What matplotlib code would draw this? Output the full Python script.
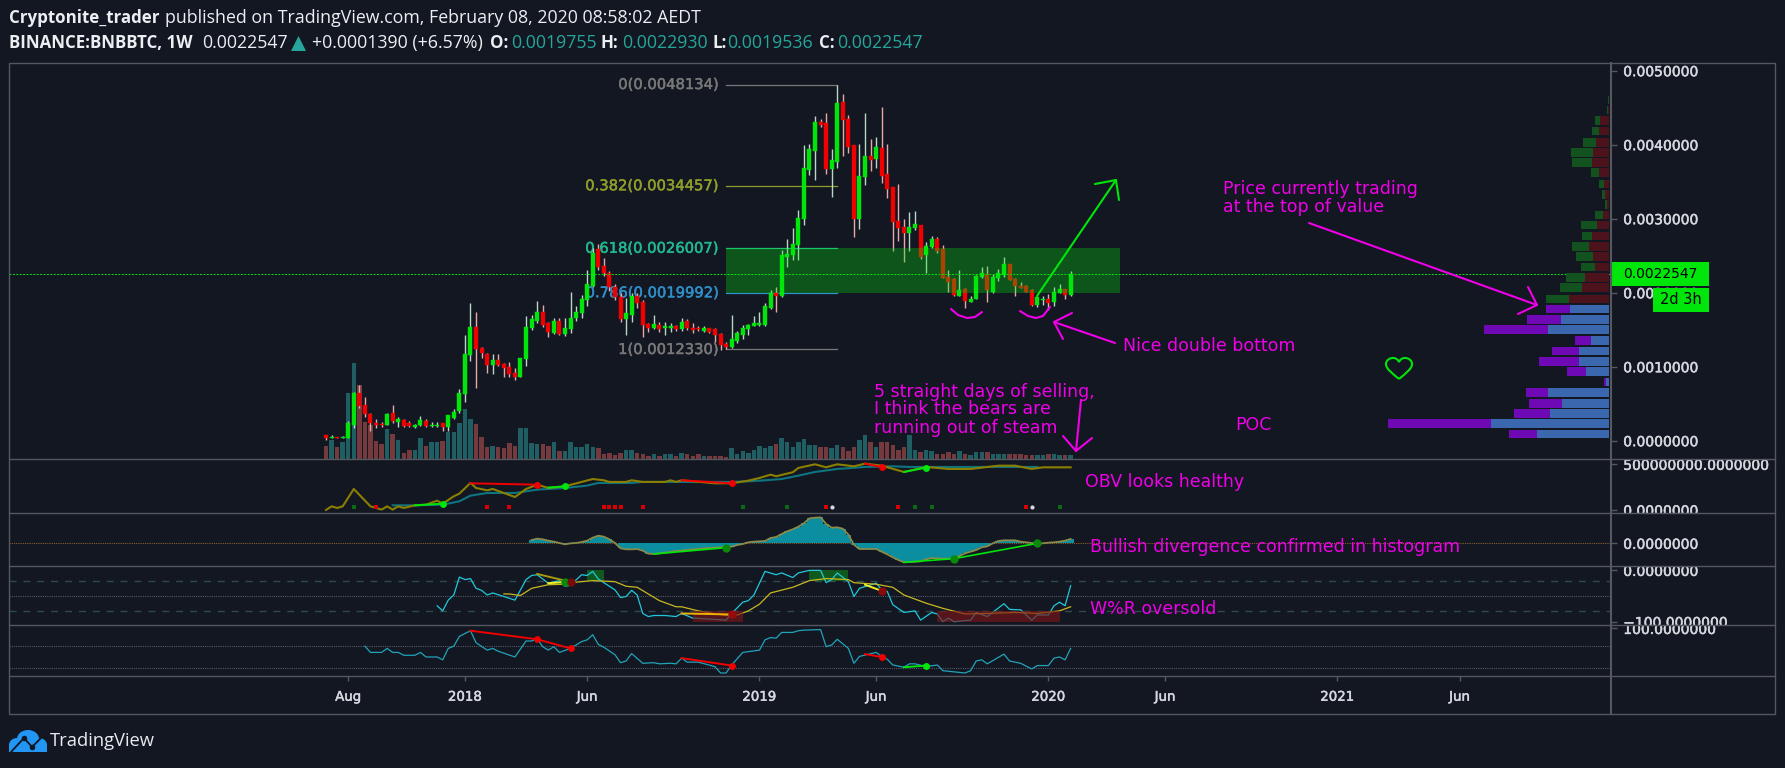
#!/usr/bin/env python
# BNBBTC weekly TradingView snapshot, redrawn in matplotlib.

import matplotlib
matplotlib.use("Agg")
import matplotlib.pyplot as plt
import matplotlib.patheffects as pe
from matplotlib.patches import Rectangle, Polygon, Ellipse, PathPatch
from matplotlib.path import Path
from matplotlib.transforms import Bbox

W, H = 1785, 768
bg = "#131722"
frame = "#55585f"
txt = "#d6d8de"
up_col = "#00e60a"
down_col = "#f00000"
magenta = "#f000e8"

# prices in 1e-5 BTC, one row per week
opens = [7.2, 4.1, 5.0, 4.1, 4.1, 21.2, 64.0, 48.2, 36.0, 23.4, 23.0, 21.2, 36.9, 25.2, 28.4, 23.4, 18.9, 21.2, 27.0, 19.8,
         20.3, 23.4, 18.0, 30.6, 39.6, 62.6, 115.8, 154.1, 125.2, 117.1, 101.8, 109.0, 103.6, 99.1, 91.4, 86.0, 109.9, 152.7, 162.2, 173.9,
         158.6, 145.9, 162.2, 144.1, 150.9, 166.2, 172.1, 190.1, 209.5, 258.6, 236.5, 226.1, 208.1, 193.7, 164.0, 169.8, 195.5, 187.8, 157.7, 152.3,
         156.3, 152.7, 152.7, 155.0, 150.5, 161.7, 152.7, 152.7, 148.6, 151.8, 150.5, 144.1, 130.6, 127.0, 134.7, 142.8, 150.5, 155.4, 156.3, 156.3,
         179.7, 199.1, 195.5, 248.2, 250.5, 264.0, 299.5, 365.8, 391.9, 430.6, 428.8, 366.7, 376.1, 458.1, 434.2, 399.1, 299.5, 356.8, 385.1, 380.2,
         395.0, 359.9, 342.3, 297.3, 289.2, 280.2, 287.4, 291.0, 250.9, 261.3, 272.1, 258.6, 220.7, 218.0, 195.9, 205.0, 187.8, 191.9, 220.7, 225.2,
         201.4, 219.4, 223.9, 238.7, 218.9, 209.0, 209.0, 203.6, 183.3, 190.1, 191.4, 187.8, 200.0, 205.0, 197.55]
highs = [7.7, 7.2, 5.4, 5.9, 27.0, 66.2, 75.2, 59.5, 36.9, 28.8, 25.7, 36.9, 48.2, 32.4, 29.7, 27.0, 22.5, 32.9, 28.8, 25.2,
         24.8, 24.3, 35.1, 42.3, 69.4, 142.8, 185.6, 173.4, 127.0, 118.9, 117.1, 117.1, 105.4, 106.8, 97.7, 111.3, 168.5, 169.8, 189.2, 183.3,
         160.8, 166.2, 165.3, 165.3, 201.4, 182.0, 196.9, 230.6, 259.9, 265.8, 246.4, 229.7, 211.7, 199.1, 192.3, 199.1, 199.1, 190.1, 158.6, 169.8,
         160.8, 159.9, 159.5, 156.3, 165.3, 164.0, 158.6, 155.0, 155.0, 152.7, 151.8, 145.0, 133.8, 169.8, 148.6, 156.3, 157.7, 168.5, 174.3, 185.6,
         203.6, 207.2, 257.7, 272.1, 287.8, 311.7, 399.5, 400.9, 438.7, 434.2, 442.3, 393.7, 481.34, 468.5, 440.1, 399.1, 400.9, 442.3, 407.7, 410.8,
         450.5, 400.9, 342.3, 346.4, 299.1, 309.0, 310.8, 291.0, 268.9, 277.0, 275.7, 264.4, 230.6, 219.4, 230.6, 205.9, 195.9, 223.9, 234.2, 236.5,
         225.2, 231.5, 247.7, 238.7, 219.4, 214.9, 210.4, 204.5, 195.5, 195.5, 197.8, 208.1, 211.7, 205.0, 229.3]
lows = [0.9, 3.2, 3.2, 3.2, 3.2, 16.7, 43.7, 31.5, 13.5, 16.7, 18.9, 20.7, 23.4, 18.9, 18.9, 18.9, 17.6, 20.3, 18.9, 18.5,
        18.0, 13.5, 13.5, 28.8, 37.8, 52.3, 107.7, 70.7, 111.3, 91.9, 90.1, 100.9, 86.5, 86.5, 82.0, 85.6, 101.4, 149.5, 158.6, 154.1,
        140.5, 144.1, 142.8, 141.4, 145.0, 162.2, 165.3, 182.0, 208.1, 230.6, 222.5, 202.7, 190.1, 160.8, 142.8, 160.8, 178.8, 140.5, 147.3, 150.5,
        147.3, 142.8, 147.3, 148.6, 148.6, 149.5, 145.0, 148.6, 147.3, 145.9, 133.8, 122.5, 123.4, 124.8, 132.4, 136.9, 142.8, 155.0, 155.4, 155.4,
        177.9, 174.3, 193.7, 235.1, 244.1, 244.1, 291.4, 359.0, 352.3, 424.3, 360.4, 328.8, 368.0, 385.1, 389.2, 275.7, 285.6, 345.5, 364.4, 368.0,
        348.6, 327.5, 256.8, 269.8, 241.0, 256.8, 284.7, 245.9, 226.1, 259.9, 254.1, 219.4, 201.4, 195.5, 195.5, 179.7, 187.4, 191.9, 219.4, 187.8,
        200.0, 216.2, 221.6, 217.1, 195.5, 205.9, 200.5, 182.0, 180.2, 183.3, 176.6, 182.4, 199.1, 191.9, 195.36]
closes = [3.6, 5.0, 4.1, 5.0, 23.4, 64.0, 47.3, 35.6, 23.4, 20.7, 20.7, 36.0, 26.6, 28.8, 19.8, 19.8, 20.7, 28.4, 19.8, 20.7,
          21.6, 18.0, 34.2, 38.7, 64.0, 117.1, 154.1, 123.4, 118.0, 101.8, 109.0, 101.8, 97.7, 89.6, 86.0, 111.3, 154.1, 164.0, 173.9, 156.3,
          147.3, 162.2, 144.1, 151.8, 166.2, 173.9, 191.4, 211.3, 254.1, 234.2, 226.1, 208.1, 193.7, 164.0, 172.1, 195.5, 185.6, 156.3, 152.3, 157.7,
          150.5, 155.0, 155.0, 150.5, 160.4, 151.8, 149.5, 150.5, 152.7, 146.8, 142.8, 129.3, 127.0, 136.9, 145.0, 152.7, 156.3, 158.6, 158.6, 182.0,
          200.0, 195.5, 250.9, 252.3, 265.8, 301.4, 368.0, 393.7, 430.6, 427.0, 366.7, 379.3, 455.9, 432.9, 397.3, 299.5, 358.1, 385.1, 379.3, 397.3,
          358.1, 340.5, 295.9, 287.8, 280.2, 289.2, 293.2, 247.7, 263.5, 272.1, 256.8, 219.4, 214.9, 196.9, 203.6, 189.2, 191.9, 222.5, 226.1, 203.6,
          220.7, 226.1, 238.7, 217.1, 209.0, 206.8, 201.4, 183.3, 193.7, 191.4, 185.6, 201.4, 205.0, 196.9, 225.47]
volumes = [40, 57, 37, 50, 197, 289, 222, 112, 102, 54, 45, 89, 75, 57, 19, 27, 27, 62, 40, 50,
           50, 54, 80, 80, 107, 149, 119, 105, 67, 35, 40, 35, 32, 49, 40, 92, 92, 49, 45, 45,
           40, 50, 25, 25, 50, 35, 35, 45, 35, 32, 14, 19, 12, 19, 27, 27, 19, 14, 10, 14,
           10, 14, 14, 10, 19, 14, 10, 14, 10, 10, 10, 10, 5, 32, 14, 24, 19, 27, 40, 32,
           40, 45, 63, 50, 36, 50, 60, 41, 41, 36, 36, 33, 41, 36, 23, 36, 58, 71, 50, 36,
           50, 50, 41, 28, 36, 71, 28, 20, 28, 23, 15, 15, 20, 16, 25, 15, 11, 20, 20, 20,
           15, 15, 15, 15, 15, 15, 11, 11, 11, 11, 15, 15, 11, 11, 11]

# fib retracement levels
fib_levels = [481.34, 344.57, 260.07, 199.92, 123.30]
fib_names = ["0(0.0048134)", "0.382(0.0034457)", "0.618(0.0026007)", "0.786(0.0019992)", "1(0.0012330)"]
fib_cols = ["#787878", "#8f9e2a", "#22b88f", "#2f8fc8", "#787878"]
fib_start, fib_end, zone_end = 72, 92, 142.9
last_price = 225.47

# volume profile, bottom row first
vp_price = [9.5, 23.4, 36.9, 50.5, 65.3, 79.7, 93.7, 107.2, 121.2, 135.6, 150.5, 164.0, 177.9,
            191.9, 206.8, 220.7, 235.1, 248.7, 262.2, 277.0, 291.9, 305.4, 319.4, 332.9, 347.3, 362.2, 376.1, 389.6, 403.2, 418.9, 432.9, 446.8, 460.4]
vp_buy = [85, 308, 108, 99, 68, 6, 58, 118, 81, 47, 191, 100, 74,
          71, 65, 55, 42, 51, 51, 28, 47, 22, 6, 10, 17, 23, 60, 65, 39, 20, 14, 4, 2]
vp_sell = [215, 354, 178, 142, 182, 10, 69, 91, 91, 54, 184, 145, 116,
           119, 81, 73, 43, 47, 61, 52, 36, 19, 7, 11, 14, 30, 52, 48, 40, 30, 27, 3, 1]
vp_value_rows = 13

# OBV in millions
obv_x = [0, 1, 2, 3, 5, 8, 10, 11, 12, 13, 14, 16, 18, 20, 21, 23, 24, 26, 27, 29, 30, 34, 36, 38, 40, 43, 48, 50, 51, 54, 55, 57, 61, 62, 63, 64, 70, 73, 76, 78, 80, 81, 84, 85, 88, 90, 92, 95, 97, 100, 104, 108, 112, 116, 121, 124, 127, 129, 134]
obv_y = [0, 40, 22, 40, 230, 40, 4, 40, 4, 40, 22, 51, 58, 102, 69, 150, 179, 296, 241, 215, 230, 142, 230, 277, 241, 259, 339, 325, 307, 307, 325, 307, 307, 325, 307, 325, 292, 292, 321, 350, 387, 369, 413, 460, 500, 467, 500, 478, 507, 485, 416, 471, 449, 449, 485, 485, 449, 467, 467]
obv_ma_x = [12, 16, 21, 24, 26, 29, 34, 38, 43, 47, 49, 55, 57, 73, 76, 79, 82, 85, 88, 92, 97, 102, 105, 114, 128]
obv_ma_y = [51, 51, 58, 95, 157, 186, 186, 223, 241, 267, 296, 296, 307, 307, 314, 325, 339, 376, 416, 449, 471, 478, 471, 471, 471]
obv_div = [(16, 51, 21, 69, up_col), (26, 292, 38, 277, down_col), (40, 245, 43, 259, up_col), (64, 325, 73, 292, down_col), (97, 507, 100, 470, down_col), (104, 416, 108, 464, up_col)]
sig_y = 36
sig_green = [5, 75, 83, 106, 109, 132]
sig_red = [9, 29, 33, 50, 51, 52, 53, 57, 90, 103, 126]
sig_white = [91, 127]

# MACD histogram, starts at bar 37
macd_start = 37
macd_hist = [10, 14, 12, 8, 5, 1, -3, 0, 1, 4, 8, 17, 23, 20, 12, 1, -15, -18, -18, -17, -22, -31, -32, -30, -28, -26, -23, -22, -20, -18, -17, -15, -14, -13, -12, -11, -10, -5, -2, 3, 5, 6, 7, 16, 19, 28, 36, 42, 50, 60, 75, 77, 78, 58, 47, 48, 44, 26, -4, -17, -17, -17, -17, -25, -33, -42, -50, -57, -56, -55, -54, -48, -44, -45, -46, -46, -46, -38, -30, -25, -20, -12, -9, 0, 7, 9, 9, 9, 5, 3, 1, 0, 0, 2, 3, 5, 8, 13]
macd_div = [(59, -32, 72, -13), (104, -57, 113, -46), (113, -46, 128, 0)]

# Williams %R
wr_x = [20, 21, 22, 23, 24, 25, 26, 27, 28, 29, 30, 34, 36, 37, 38, 40, 42, 43, 44, 46, 47, 48, 49, 52, 53, 54, 55, 56, 57, 58, 59, 61, 63, 64, 66, 72, 73, 75, 76, 77, 79, 81, 82, 84, 85, 87, 89, 90, 91, 92, 94, 95, 96, 99, 100, 101, 102, 104, 106, 107, 109, 110, 111, 112, 113, 116, 117, 119, 122, 123, 125, 127, 128, 130, 131, 132, 133, 134]
wr_y = [-69, -79, -58, -48, -13, -18, -16, -35, -39, -48, -44, -58, -18, -10, -8.5, -25, -20, -31, -29, -8.5, -10, -2, -17, -38, -53, -51, -39, -48, -84, -90, -88, -88, -90, -84, -93, -97, -84, -62, -59, -48, -2, -8.5, -5, -14, -5, 0, 0, -24, -18, -5, -22, -51, -35, -25, -38, -41, -67, -82, -79, -97, -82, -85, -100, -93, -100, -97, -82, -90, -65, -76, -77, -97, -87, -87, -69, -62, -69, -30]
wr_ma_x = [32, 33, 35, 37, 40, 43, 45, 48, 52, 54, 56, 58, 60, 63, 64, 67, 72, 74, 76, 78, 80, 84, 87, 90, 94, 95, 99, 102, 104, 108, 111, 115, 119, 124, 128, 132, 134]
wr_ma_y = [-46, -46, -49, -35, -28, -27, -23, -20, -22, -31, -33, -46, -59, -71, -71, -79, -88, -87, -79, -66, -44, -33, -20, -16, -18, -24, -27, -33, -48, -64, -74, -85, -84, -82, -84, -79, -71]
wr_high_zones = [(47, 50), (87, 94)]
wr_low_zones = [(66, 75), (110, 132)]

# RSI
rsi_x = [7, 8, 10, 11, 12, 13, 14, 16, 17, 18, 20, 21, 22, 23, 24, 26, 27, 29, 30, 31, 34, 36, 37, 38, 39, 40, 41, 42, 44, 46, 47, 48, 49, 50, 52, 53, 54, 55, 57, 59, 60, 62, 63, 64, 65, 67, 70, 71, 72, 73, 75, 78, 79, 80, 81, 82, 84, 85, 86, 89, 90, 91, 92, 94, 95, 96, 99, 100, 101, 102, 104, 105, 106, 108, 110, 111, 115, 116, 117, 118, 119, 122, 123, 125, 127, 128, 130, 131, 132, 133, 134]
rsi_y = [69, 58, 58, 65, 58, 58, 53, 53, 58, 50, 50, 45, 65, 69, 86, 96, 75, 62, 65, 60, 50, 78, 78, 82, 68, 62, 68, 58, 65, 77, 80, 89, 72, 67, 54, 40, 43, 56, 39, 40, 38, 39, 38, 48, 41, 41, 33, 22, 22, 36, 58, 62, 80, 84, 83, 93, 93, 96, 97, 98, 68, 71, 81, 65, 39, 51, 58, 51, 46, 36, 32, 38, 38, 33, 36, 26, 22, 26, 43, 45, 38, 55, 43, 39, 29, 35, 35, 48, 50, 45, 65]
rsi_div = [(26, 96, 38, 81, down_col), (38, 81, 44, 65, down_col), (64, 48, 73, 35, down_col), (97, 55, 100, 50, down_col), (104, 32, 108, 35, up_col)]

time_ticks = [4, 25, 47, 78, 99, 130, 151, 182, 204]
time_labels = ["Aug", "2018", "Jun", "2019", "Jun", "2020", "Jun", "2021", "Jun"]

# the source text is a little heavier than plain DejaVu at this size
heavy = [pe.withStroke(linewidth=0.35, foreground=txt)]


def px_axes(fig, top, bottom, left=9, right=1611):
    ax = fig.add_axes([left / W, 1 - bottom / H, (right - left) / W, (bottom - top) / H])
    ax.set_facecolor("none")
    for s in ax.spines.values():
        s.set_visible(False)
    ax.set_xlim((left - 326) / 5.557, (right - 326) / 5.557)
    ax.yaxis.tick_right()
    ax.tick_params(axis="x", bottom=False, labelbottom=False)
    ax.tick_params(axis="y", length=4.3, width=1, color="#55585f", pad=4.5, labelsize=10, labelcolor=txt)
    return ax


def set_price_ticks(ax, ticks, labels, top, bottom):
    ax.set_yticks(ticks)
    ax.set_yticklabels(labels)
    clip = Bbox.from_extents(1611, H - bottom, 1785, H - top)
    for t in ax.get_yticklabels():
        t.set_clip_on(True)
        t.set_clip_box(clip)
        t.set_path_effects(heavy)


def dot(ax, x, y, col, size=5):
    ax.plot([x], [y], "o", color=col, markersize=size, markeredgewidth=0, zorder=6)


fig = plt.figure(figsize=(W / 100, H / 100), dpi=100, facecolor=bg)

# main price panel
ax = px_axes(fig, 63, 459)
ax.set_ylim(-24.7, 510.4)
bars = list(range(len(opens)))
is_up = [c >= o for o, c in zip(opens, closes)]

# volume sits on its own scale at the bottom
ax_vol = ax.twinx()
ax_vol.set_ylim(0, 1188)
ax_vol.set_yticks([])
for s in ax_vol.spines.values():
    s.set_visible(False)
ax_vol.bar(bars, volumes, width=0.8, color=["#1f5f63" if u else "#743a3d" for u in is_up], linewidth=0, zorder=1)
ax_vol.set_zorder(0)
ax.set_zorder(1)

for lvl, name, col in zip(fib_levels, fib_names, fib_cols):
    ax.plot([fib_start, fib_end], [lvl, lvl], color=col, lw=0.9, zorder=2)
    ax.text(fib_start - 1.3, lvl, name, color=col, ha="right", va="center", fontsize=10.6, zorder=2,
            path_effects=[pe.withStroke(linewidth=0.35, foreground=col)])

ax.vlines(bars, lows, highs, colors=["#b6d8c4" if u else "#e8a8a8" for u in is_up], lw=1.0, zorder=3)
ax.bar(bars, [abs(c - o) for o, c in zip(opens, closes)], bottom=[min(o, c) for o, c in zip(opens, closes)],
       width=0.72, color=[up_col if u else down_col for u in is_up], linewidth=0.3,
       edgecolor=[up_col if u else down_col for u in is_up], zorder=4)
ax.add_patch(Rectangle((fib_start, fib_levels[3]), zone_end - fib_start, fib_levels[2] - fib_levels[3],
                       facecolor="#00e60a", alpha=0.3, linewidth=0, zorder=5))
ax.axhline(last_price, color=up_col, lw=0.7, ls=(0, (2, 1.5)), zorder=5)

# volume profile drawn from the right edge
ax_vp = ax.twiny()
ax_vp.set_xlim(4800, -6)
ax_vp.set_xticks([])
for s in ax_vp.spines.values():
    s.set_visible(False)
for n, (p, b, s) in enumerate(zip(vp_price, vp_buy, vp_sell)):
    c_sell = "#3a67ad" if n < vp_value_rows else "#4d131c"
    c_buy = "#6f08b5" if n < vp_value_rows else "#12521f"
    ax_vp.barh(p, s, height=11.3, color=c_sell, linewidth=0, zorder=3)
    ax_vp.barh(p, b, left=s, height=11.3, color=c_buy, linewidth=0, zorder=3)

# twinx and twiny put the main ticks back on the wrong sides
ax.yaxis.tick_right()
ax.tick_params(axis="x", bottom=False, labelbottom=False, top=False, labeltop=False)
set_price_ticks(ax, [0, 100, 200, 300, 400, 500],
                ["0.0000000", "0.0010000", "0.0020000", "0.0030000", "0.0040000", "0.0050000"], 63, 459)

# OBV panel
ax_obv = px_axes(fig, 459, 513)
ax_obv.set_ylim(-33, 558)
set_price_ticks(ax_obv, [0, 500], ["0.0000000", "500000000.0000000"], 459, 513)
ax_obv.plot(obv_ma_x, obv_ma_y, color="#0e7480", lw=1.5)
ax_obv.plot(obv_x, obv_y, color="#8a7f00", lw=1.5)
for x0, y0, x1, y1, col in obv_div:
    ax_obv.plot([x0, x1], [y0, y1], color=col, lw=1.4, zorder=5)
    dot(ax_obv, x1, y1, col)
ax_obv.plot(sig_green, [sig_y] * len(sig_green), "s", color="#0b6b12", markersize=3.2, markeredgewidth=0)
ax_obv.plot(sig_red, [sig_y] * len(sig_red), "s", color="#d80000", markersize=3.2, markeredgewidth=0)
ax_obv.plot(sig_white, [sig_y] * len(sig_white), "o", color="#d6d8de", markersize=3, markeredgewidth=0)

# MACD panel
ax_macd = px_axes(fig, 513, 566)
ax_macd.set_ylim(-68, 91)
set_price_ticks(ax_macd, [0], ["0.0000000"], 513, 566)
ax_macd.axhline(0, color="#8a5f2a", lw=0.8, ls=(0, (1, 1)), zorder=1)
macd_bars = list(range(macd_start, macd_start + len(macd_hist)))
ax_macd.bar(macd_bars, macd_hist, width=1.05, color="#0b8fa0", linewidth=0, zorder=2)
ax_macd.plot(macd_bars, macd_hist, color="#8a8a4a", lw=1.3, zorder=3)
for x0, y0, x1, y1 in macd_div:
    ax_macd.plot([x0, x1], [y0, y1], color=up_col, lw=1.2, zorder=5)
    dot(ax_macd, x1, y1, "#0a8a0a", 6)

# Williams %R panel
ax_wr = px_axes(fig, 566, 625)
ax_wr.set_ylim(-106.5, 8.5)
set_price_ticks(ax_wr, [0, -100], ["0.0000000", "\u2212100.0000000"], 566, 625)
ax_wr.axhline(-20, color="#2f4a4f", lw=1, ls=(0, (5, 5)))
ax_wr.axhline(-80, color="#2f4a4f", lw=1, ls=(0, (5, 5)))
ax_wr.axhline(-50, color="#565a68", lw=0.8, ls=(0, (1, 1)))
for x0, x1 in wr_high_zones:
    ax_wr.add_patch(Rectangle((x0, -20), x1 - x0, 20, facecolor="#0f6a1e", alpha=0.8, linewidth=0, zorder=1))
ax_wr.plot(wr_x, wr_y, color="#1fc8da", lw=0.9, zorder=2)
ax_wr.plot(wr_ma_x, wr_ma_y, color="#c8b820", lw=0.9, zorder=3)
for x0, x1 in wr_low_zones:
    ax_wr.add_patch(Rectangle((x0, -100), x1 - x0, 20, facecolor="#7a1418", alpha=0.65, linewidth=0, zorder=4))
ax_wr.plot([38, 43], [-7, -20], color="#a89a10", lw=1.4, zorder=5)
ax_wr.plot([40, 43], [-25, -23], color="#f0f020", lw=1.4, zorder=5)
ax_wr.plot([64, 73], [-84, -86], color="#f0b000", lw=1.4, zorder=5)
ax_wr.plot([97, 100], [-28, -40], color="#f0f020", lw=1.4, zorder=5)
dot(ax_wr, 43, -23, "#0a8a0a", 6)
dot(ax_wr, 44, -23, "#7a0a0a", 6)
dot(ax_wr, 73, -86, "#9a0a0a", 6)
dot(ax_wr, 100, -40, "#8a0a0a", 6)

# RSI panel
ax_rsi = px_axes(fig, 625, 676)
ax_rsi.set_ylim(16.7, 106)
set_price_ticks(ax_rsi, [100], ["100.0000000"], 625, 676)
ax_rsi.axhline(70, color="#565a68", lw=0.8, ls=(0, (1, 1)))
ax_rsi.axhline(30, color="#565a68", lw=0.8, ls=(0, (1, 1)))
ax_rsi.plot(rsi_x, rsi_y, color="#21a3b8", lw=0.9)
for x0, y0, x1, y1, col in rsi_div:
    ax_rsi.plot([x0, x1], [y0, y1], color=col, lw=1.4, zorder=5)
    dot(ax_rsi, x1, y1, col)
ax_rsi.set_xticks(time_ticks)
ax_rsi.set_xticklabels(time_labels)
ax_rsi.tick_params(axis="x", bottom=True, labelbottom=True, length=3.6, width=1, color="#55585f",
                   pad=7, labelsize=9.6, labelcolor=txt)
for t in ax_rsi.get_xticklabels():
    t.set_path_effects(heavy)

# overlay in figure pixels: frame, drawings and text
ov = fig.add_axes([0, 0, 1, 1])
ov.set_xlim(0, W)
ov.set_ylim(H, 0)
ov.axis("off")
ov.patch.set_visible(False)
ov.set_zorder(10)

ov.add_patch(Rectangle((9, 63), 1766, 651, fill=False, edgecolor=frame, lw=1))
for y in [459, 513, 566, 625, 676]:
    ov.plot([9, 1775], [y, y], color=frame, lw=1)
ov.plot([1611, 1611], [63, 714], color=frame, lw=1.5)

# price label boxes
ov.add_patch(Rectangle((1610, 262), 99, 24, facecolor=up_col, linewidth=0))
ov.text(1623, 274, "0.0022547", color="black", va="center", fontsize=10)
ov.add_patch(Rectangle((1653, 288), 56, 24, facecolor=up_col, linewidth=0))
ov.text(1681, 300, "2d 3h", color="black", va="center", ha="center", fontsize=10.5)


def stroke(points, col=magenta, lw=1.5):
    ov.plot([p[0] for p in points], [p[1] for p in points], color=col, lw=lw, solid_capstyle="round")


stroke([(1037, 296), (1116, 180)], up_col)
stroke([(1095, 184), (1116, 180), (1119, 200)], up_col)
stroke([(951, 309), (958, 315), (967, 318), (975, 317), (982, 312)])
stroke([(1020, 311), (1028, 316), (1036, 318), (1043, 316), (1050, 307)])
stroke([(1115, 343), (1054, 322)])
stroke([(1072, 313), (1054, 322), (1063, 339)])
stroke([(1081, 400), (1076, 451)])
stroke([(1063, 436), (1076, 451), (1092, 438)])
stroke([(1309, 223), (1537, 305)])
stroke([(1528, 287), (1537, 305), (1518, 314)])

note_size = 12.5
ov.text(1123, 346, "Nice double bottom", color=magenta, va="center", fontsize=note_size)
ov.text(874, 392, "5 straight days of selling,", color=magenta, va="center", fontsize=note_size)
ov.text(874, 409.5, "I think the bears are", color=magenta, va="center", fontsize=note_size)
ov.text(874, 428, "running out of steam", color=magenta, va="center", fontsize=note_size)
ov.text(1235, 425, "POC", color=magenta, va="center", fontsize=note_size)
ov.text(1223, 189, "Price currently trading", color=magenta, va="center", fontsize=note_size)
ov.text(1223, 207, "at the top of value", color=magenta, va="center", fontsize=note_size)
ov.text(1085, 482, "OBV looks healthy", color=magenta, va="center", fontsize=note_size)
ov.text(1090, 547, "Bullish divergence confirmed in histogram", color=magenta, va="center", fontsize=note_size)
ov.text(1090, 609, "W%R oversold", color=magenta, va="center", fontsize=note_size)

# heart outline
heart_verts = [(1399, 379), (1392, 373), (1386, 369), (1386, 364), (1386, 358), (1396, 355), (1399, 362),
               (1402, 355), (1412, 358), (1412, 364), (1412, 369), (1406, 373), (1399, 379)]
heart_codes = [Path.MOVETO] + [Path.CURVE4] * 12
ov.add_patch(PathPatch(Path(heart_verts, heart_codes), fill=False, edgecolor=up_col, lw=1.5))

# header lines
head_font = "Open Sans"
head_size = 12.8
bold_size = 12.2
head_teal = "#26a69a"
head_white = "#eceff2"
ov.text(9, 18, "Cryptonite_trader", color=head_white, fontweight="bold", family=head_font, fontsize=bold_size, va="center")
ov.text(165, 18, "published on TradingView.com, February 08, 2020 08:58:02 AEDT", color=head_white, family=head_font, fontsize=head_size, va="center")
ov.text(9, 43, "BINANCE:BNBBTC, 1W", color=head_white, fontweight="bold", family=head_font, fontsize=bold_size, va="center")
ov.text(202, 43, "0.0022547", color=head_white, family=head_font, fontsize=head_size, va="center")
ov.add_patch(Polygon([(291, 51), (298.5, 36), (306, 51)], facecolor=head_teal, linewidth=0))
ov.text(312, 43, "+0.0001390 (+6.57%)", color=head_white, family=head_font, fontsize=head_size, va="center")
for lx, lab, vx, val in [(490, "O:", 511, "0.0019755"), (601, "H:", 622, "0.0022930"),
                         (713, "L:", 727, "0.0019536"), (819, "C:", 837, "0.0022547")]:
    ov.text(lx, 43, lab, color=head_white, fontweight="bold", family=head_font, fontsize=bold_size, va="center")
    ov.text(vx, 43, val, color=head_teal, family=head_font, fontsize=head_size, va="center")

# TradingView logo
logo = "#2196f3"
ov.add_patch(Ellipse((28, 739), 22, 18, facecolor=logo, linewidth=0))
ov.add_patch(Ellipse((17, 745), 16, 14, facecolor=logo, linewidth=0))
ov.add_patch(Ellipse((39, 745), 16, 14, facecolor=logo, linewidth=0))
ov.add_patch(Rectangle((9, 745), 38, 7, facecolor=logo, linewidth=0))
stroke([(11, 752), (24, 738), (32, 747), (41, 738)], bg, 1.3)
ov.plot([24, 32], [738, 747], "o", color=bg, markersize=4, markeredgewidth=0)
ov.text(50, 741, "TradingView", color="#e8eaee", family="Open Sans", fontsize=13.2, va="center")

plt.savefig("out.png", dpi=100, facecolor=bg)
